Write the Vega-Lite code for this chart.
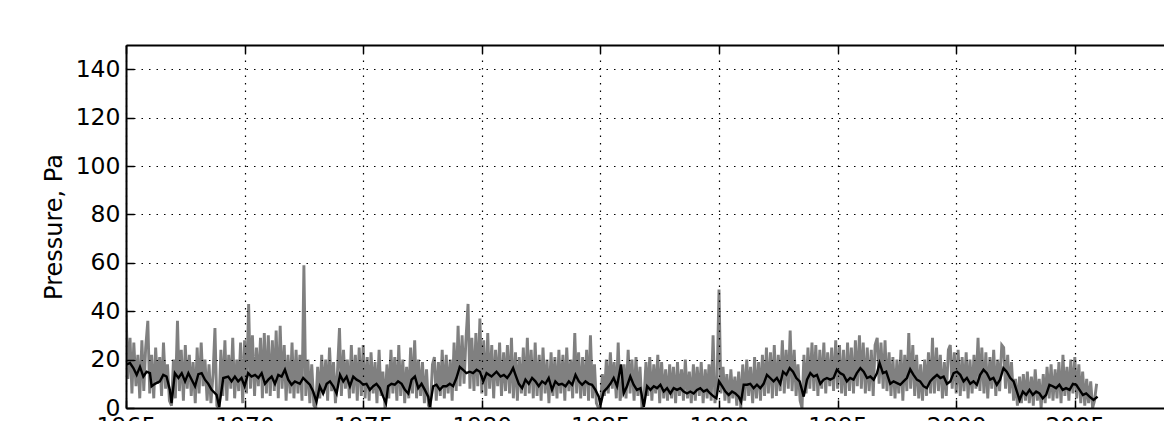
{
"$schema": "https://vega.github.io/schema/vega-lite/v6.json",
"width": 1038, "height": 363,
"autosize": {"type": "none"},
"padding": {"left": 126, "top": 45, "right": 0, "bottom": 13},
"background": "white",
"config": {"view": {"stroke": null}, "font": "DejaVu Sans"},
"datasets": {
"gray": [
{"t":1965.00,"p":41},{"t":1965.08,"p":12},{"t":1965.17,"p":29},{"t":1965.25,"p":6},{"t":1965.33,"p":27},{"t":1965.42,"p":9},{"t":1965.50,"p":22},{"t":1965.58,"p":4},{"t":1965.67,"p":28},{"t":1965.75,"p":7},{"t":1965.83,"p":25},{"t":1965.92,"p":36},
{"t":1966.00,"p":6},{"t":1966.08,"p":22},{"t":1966.17,"p":4},{"t":1966.25,"p":25},{"t":1966.33,"p":10},{"t":1966.42,"p":21},{"t":1966.50,"p":5},{"t":1966.58,"p":27},{"t":1966.67,"p":8},{"t":1966.75,"p":18},{"t":1966.83,"p":3},{"t":1966.92,"p":1},
{"t":1967.00,"p":20},{"t":1967.08,"p":4},{"t":1967.17,"p":36},{"t":1967.25,"p":7},{"t":1967.33,"p":24},{"t":1967.42,"p":3},{"t":1967.50,"p":26},{"t":1967.58,"p":8},{"t":1967.67,"p":22},{"t":1967.75,"p":5},{"t":1967.83,"p":19},{"t":1967.92,"p":2},
{"t":1968.00,"p":25},{"t":1968.08,"p":6},{"t":1968.17,"p":27},{"t":1968.25,"p":9},{"t":1968.33,"p":20},{"t":1968.42,"p":3},{"t":1968.50,"p":18},{"t":1968.58,"p":2},{"t":1968.67,"p":14},{"t":1968.75,"p":33},{"t":1968.83,"p":1},{"t":1968.92,"p":0},
{"t":1969.00,"p":24},{"t":1969.08,"p":5},{"t":1969.17,"p":28},{"t":1969.25,"p":3},{"t":1969.33,"p":22},{"t":1969.42,"p":8},{"t":1969.50,"p":29},{"t":1969.58,"p":4},{"t":1969.67,"p":20},{"t":1969.75,"p":7},{"t":1969.83,"p":27},{"t":1969.92,"p":2},
{"t":1970.00,"p":28},{"t":1970.08,"p":6},{"t":1970.17,"p":43},{"t":1970.25,"p":8},{"t":1970.33,"p":30},{"t":1970.42,"p":5},{"t":1970.50,"p":25},{"t":1970.58,"p":9},{"t":1970.67,"p":29},{"t":1970.75,"p":4},{"t":1970.83,"p":31},{"t":1970.92,"p":6},
{"t":1971.00,"p":30},{"t":1971.08,"p":5},{"t":1971.17,"p":28},{"t":1971.25,"p":7},{"t":1971.33,"p":32},{"t":1971.42,"p":4},{"t":1971.50,"p":34},{"t":1971.58,"p":8},{"t":1971.67,"p":26},{"t":1971.75,"p":3},{"t":1971.83,"p":22},{"t":1971.92,"p":6},
{"t":1972.00,"p":27},{"t":1972.08,"p":4},{"t":1972.17,"p":24},{"t":1972.25,"p":6},{"t":1972.33,"p":22},{"t":1972.42,"p":3},{"t":1972.50,"p":59},{"t":1972.58,"p":5},{"t":1972.67,"p":20},{"t":1972.75,"p":2},{"t":1972.83,"p":18},{"t":1972.92,"p":1},
{"t":1973.00,"p":0},{"t":1973.08,"p":17},{"t":1973.17,"p":4},{"t":1973.25,"p":22},{"t":1973.33,"p":6},{"t":1973.42,"p":20},{"t":1973.50,"p":3},{"t":1973.58,"p":25},{"t":1973.67,"p":7},{"t":1973.75,"p":19},{"t":1973.83,"p":2},{"t":1973.92,"p":16},
{"t":1974.00,"p":33},{"t":1974.08,"p":5},{"t":1974.17,"p":24},{"t":1974.25,"p":8},{"t":1974.33,"p":20},{"t":1974.42,"p":4},{"t":1974.50,"p":26},{"t":1974.58,"p":6},{"t":1974.67,"p":22},{"t":1974.75,"p":3},{"t":1974.83,"p":25},{"t":1974.92,"p":5},
{"t":1975.00,"p":26},{"t":1975.08,"p":4},{"t":1975.17,"p":21},{"t":1975.25,"p":3},{"t":1975.33,"p":23},{"t":1975.42,"p":6},{"t":1975.50,"p":19},{"t":1975.58,"p":2},{"t":1975.67,"p":24},{"t":1975.75,"p":5},{"t":1975.83,"p":15},{"t":1975.92,"p":0},
{"t":1976.00,"p":18},{"t":1976.08,"p":4},{"t":1976.17,"p":24},{"t":1976.25,"p":6},{"t":1976.33,"p":21},{"t":1976.42,"p":3},{"t":1976.50,"p":26},{"t":1976.58,"p":5},{"t":1976.67,"p":20},{"t":1976.75,"p":2},{"t":1976.83,"p":17},{"t":1976.92,"p":4},
{"t":1977.00,"p":25},{"t":1977.08,"p":6},{"t":1977.17,"p":28},{"t":1977.25,"p":4},{"t":1977.33,"p":20},{"t":1977.42,"p":5},{"t":1977.50,"p":19},{"t":1977.58,"p":2},{"t":1977.67,"p":16},{"t":1977.75,"p":1},{"t":1977.83,"p":0},{"t":1977.92,"p":18},
{"t":1978.00,"p":21},{"t":1978.08,"p":3},{"t":1978.17,"p":19},{"t":1978.25,"p":5},{"t":1978.33,"p":24},{"t":1978.42,"p":4},{"t":1978.50,"p":22},{"t":1978.58,"p":6},{"t":1978.67,"p":20},{"t":1978.75,"p":3},{"t":1978.83,"p":27},{"t":1978.92,"p":7},
{"t":1979.00,"p":34},{"t":1979.08,"p":9},{"t":1979.17,"p":30},{"t":1979.25,"p":10},{"t":1979.33,"p":28},{"t":1979.42,"p":43},{"t":1979.50,"p":8},{"t":1979.58,"p":29},{"t":1979.67,"p":7},{"t":1979.75,"p":31},{"t":1979.83,"p":9},{"t":1979.92,"p":37},
{"t":1980.00,"p":6},{"t":1980.08,"p":28},{"t":1980.17,"p":5},{"t":1980.25,"p":31},{"t":1980.33,"p":8},{"t":1980.42,"p":26},{"t":1980.50,"p":4},{"t":1980.58,"p":24},{"t":1980.67,"p":9},{"t":1980.75,"p":27},{"t":1980.83,"p":5},{"t":1980.92,"p":23},
{"t":1981.00,"p":7},{"t":1981.08,"p":26},{"t":1981.17,"p":6},{"t":1981.25,"p":29},{"t":1981.33,"p":4},{"t":1981.42,"p":23},{"t":1981.50,"p":3},{"t":1981.58,"p":21},{"t":1981.67,"p":6},{"t":1981.75,"p":25},{"t":1981.83,"p":5},{"t":1981.92,"p":29},
{"t":1982.00,"p":6},{"t":1982.08,"p":24},{"t":1982.17,"p":4},{"t":1982.25,"p":27},{"t":1982.33,"p":5},{"t":1982.42,"p":22},{"t":1982.50,"p":3},{"t":1982.58,"p":25},{"t":1982.67,"p":6},{"t":1982.75,"p":20},{"t":1982.83,"p":2},{"t":1982.92,"p":23},
{"t":1983.00,"p":5},{"t":1983.08,"p":21},{"t":1983.17,"p":4},{"t":1983.25,"p":24},{"t":1983.33,"p":6},{"t":1983.42,"p":22},{"t":1983.50,"p":3},{"t":1983.58,"p":25},{"t":1983.67,"p":7},{"t":1983.75,"p":20},{"t":1983.83,"p":4},{"t":1983.92,"p":31},
{"t":1984.00,"p":6},{"t":1984.08,"p":23},{"t":1984.17,"p":4},{"t":1984.25,"p":21},{"t":1984.33,"p":5},{"t":1984.42,"p":24},{"t":1984.50,"p":3},{"t":1984.58,"p":30},{"t":1984.67,"p":4},{"t":1984.75,"p":18},{"t":1984.83,"p":2},{"t":1984.92,"p":0},
{"t":1985.00,"p":0},{"t":1985.08,"p":14},{"t":1985.17,"p":5},{"t":1985.25,"p":20},{"t":1985.33,"p":6},{"t":1985.42,"p":23},{"t":1985.50,"p":8},{"t":1985.58,"p":19},{"t":1985.67,"p":4},{"t":1985.75,"p":27},{"t":1985.83,"p":3},{"t":1985.92,"p":10},
{"t":1986.00,"p":18},{"t":1986.08,"p":4},{"t":1986.17,"p":24},{"t":1986.25,"p":6},{"t":1986.33,"p":20},{"t":1986.42,"p":3},{"t":1986.50,"p":21},{"t":1986.58,"p":5},{"t":1986.67,"p":17},{"t":1986.75,"p":0},{"t":1986.83,"p":2},{"t":1986.92,"p":19},
{"t":1987.00,"p":5},{"t":1987.08,"p":21},{"t":1987.17,"p":3},{"t":1987.25,"p":18},{"t":1987.33,"p":6},{"t":1987.42,"p":22},{"t":1987.50,"p":2},{"t":1987.58,"p":19},{"t":1987.67,"p":4},{"t":1987.75,"p":16},{"t":1987.83,"p":3},{"t":1987.92,"p":18},
{"t":1988.00,"p":4},{"t":1988.08,"p":17},{"t":1988.17,"p":2},{"t":1988.25,"p":19},{"t":1988.33,"p":5},{"t":1988.42,"p":16},{"t":1988.50,"p":3},{"t":1988.58,"p":20},{"t":1988.67,"p":4},{"t":1988.75,"p":15},{"t":1988.83,"p":2},{"t":1988.92,"p":18},
{"t":1989.00,"p":3},{"t":1989.08,"p":17},{"t":1989.17,"p":5},{"t":1989.25,"p":19},{"t":1989.33,"p":2},{"t":1989.42,"p":16},{"t":1989.50,"p":4},{"t":1989.58,"p":18},{"t":1989.67,"p":3},{"t":1989.75,"p":30},{"t":1989.83,"p":2},{"t":1989.92,"p":12},
{"t":1990.00,"p":49},{"t":1990.08,"p":6},{"t":1990.17,"p":17},{"t":1990.25,"p":3},{"t":1990.33,"p":14},{"t":1990.42,"p":2},{"t":1990.50,"p":16},{"t":1990.58,"p":4},{"t":1990.67,"p":13},{"t":1990.75,"p":1},{"t":1990.83,"p":15},{"t":1990.92,"p":0},
{"t":1991.00,"p":18},{"t":1991.08,"p":3},{"t":1991.17,"p":20},{"t":1991.25,"p":5},{"t":1991.33,"p":17},{"t":1991.42,"p":2},{"t":1991.50,"p":21},{"t":1991.58,"p":4},{"t":1991.67,"p":19},{"t":1991.75,"p":3},{"t":1991.83,"p":22},{"t":1991.92,"p":5},
{"t":1992.00,"p":25},{"t":1992.08,"p":6},{"t":1992.17,"p":23},{"t":1992.25,"p":4},{"t":1992.33,"p":26},{"t":1992.42,"p":5},{"t":1992.50,"p":22},{"t":1992.58,"p":7},{"t":1992.67,"p":28},{"t":1992.75,"p":6},{"t":1992.83,"p":24},{"t":1992.92,"p":8},
{"t":1993.00,"p":32},{"t":1993.08,"p":7},{"t":1993.17,"p":24},{"t":1993.25,"p":5},{"t":1993.33,"p":18},{"t":1993.42,"p":3},{"t":1993.50,"p":0},{"t":1993.58,"p":22},{"t":1993.67,"p":6},{"t":1993.75,"p":25},{"t":1993.83,"p":8},{"t":1993.92,"p":27},
{"t":1994.00,"p":7},{"t":1994.08,"p":26},{"t":1994.17,"p":5},{"t":1994.25,"p":24},{"t":1994.33,"p":8},{"t":1994.42,"p":27},{"t":1994.50,"p":6},{"t":1994.58,"p":23},{"t":1994.67,"p":9},{"t":1994.75,"p":25},{"t":1994.83,"p":7},{"t":1994.92,"p":28},
{"t":1995.00,"p":8},{"t":1995.08,"p":26},{"t":1995.17,"p":6},{"t":1995.25,"p":24},{"t":1995.33,"p":5},{"t":1995.42,"p":27},{"t":1995.50,"p":7},{"t":1995.58,"p":25},{"t":1995.67,"p":6},{"t":1995.75,"p":28},{"t":1995.83,"p":9},{"t":1995.92,"p":30},
{"t":1996.00,"p":8},{"t":1996.08,"p":27},{"t":1996.17,"p":6},{"t":1996.25,"p":25},{"t":1996.33,"p":7},{"t":1996.42,"p":24},{"t":1996.50,"p":5},{"t":1996.58,"p":26},{"t":1996.67,"p":29},{"t":1996.75,"p":10},{"t":1996.83,"p":27},{"t":1996.92,"p":8},
{"t":1997.00,"p":28},{"t":1997.08,"p":7},{"t":1997.17,"p":23},{"t":1997.25,"p":5},{"t":1997.33,"p":21},{"t":1997.42,"p":4},{"t":1997.50,"p":20},{"t":1997.58,"p":6},{"t":1997.67,"p":24},{"t":1997.75,"p":3},{"t":1997.83,"p":22},{"t":1997.92,"p":7},
{"t":1998.00,"p":31},{"t":1998.08,"p":8},{"t":1998.17,"p":26},{"t":1998.25,"p":5},{"t":1998.33,"p":22},{"t":1998.42,"p":4},{"t":1998.50,"p":18},{"t":1998.58,"p":3},{"t":1998.67,"p":20},{"t":1998.75,"p":5},{"t":1998.83,"p":23},{"t":1998.92,"p":6},
{"t":1999.00,"p":29},{"t":1999.08,"p":6},{"t":1999.17,"p":25},{"t":1999.25,"p":7},{"t":1999.33,"p":22},{"t":1999.42,"p":4},{"t":1999.50,"p":19},{"t":1999.58,"p":5},{"t":1999.67,"p":24},{"t":1999.75,"p":26},{"t":1999.83,"p":8},{"t":1999.92,"p":23},
{"t":2000.00,"p":6},{"t":2000.08,"p":24},{"t":2000.17,"p":5},{"t":2000.25,"p":21},{"t":2000.33,"p":7},{"t":2000.42,"p":23},{"t":2000.50,"p":4},{"t":2000.58,"p":20},{"t":2000.67,"p":6},{"t":2000.75,"p":22},{"t":2000.83,"p":8},{"t":2000.92,"p":29},
{"t":2001.00,"p":7},{"t":2001.08,"p":25},{"t":2001.17,"p":6},{"t":2001.25,"p":23},{"t":2001.33,"p":4},{"t":2001.42,"p":21},{"t":2001.50,"p":8},{"t":2001.58,"p":24},{"t":2001.67,"p":5},{"t":2001.75,"p":20},{"t":2001.83,"p":7},{"t":2001.92,"p":26},
{"t":2002.00,"p":25},{"t":2002.08,"p":8},{"t":2002.17,"p":22},{"t":2002.25,"p":6},{"t":2002.33,"p":19},{"t":2002.42,"p":3},{"t":2002.50,"p":12},{"t":2002.58,"p":1},{"t":2002.67,"p":13},{"t":2002.75,"p":2},{"t":2002.83,"p":14},{"t":2002.92,"p":3},
{"t":2003.00,"p":15},{"t":2003.08,"p":2},{"t":2003.17,"p":13},{"t":2003.25,"p":1},{"t":2003.33,"p":16},{"t":2003.42,"p":3},{"t":2003.50,"p":12},{"t":2003.58,"p":0},{"t":2003.67,"p":14},{"t":2003.75,"p":2},{"t":2003.83,"p":17},{"t":2003.92,"p":4},
{"t":2004.00,"p":18},{"t":2004.08,"p":3},{"t":2004.17,"p":16},{"t":2004.25,"p":4},{"t":2004.33,"p":19},{"t":2004.42,"p":2},{"t":2004.50,"p":22},{"t":2004.58,"p":5},{"t":2004.67,"p":17},{"t":2004.75,"p":3},{"t":2004.83,"p":20},{"t":2004.92,"p":6},
{"t":2005.00,"p":21},{"t":2005.08,"p":4},{"t":2005.17,"p":18},{"t":2005.25,"p":2},{"t":2005.33,"p":15},{"t":2005.42,"p":1},{"t":2005.50,"p":12},{"t":2005.58,"p":2},{"t":2005.67,"p":11},{"t":2005.75,"p":0},{"t":2005.83,"p":3},{"t":2005.92,"p":10}
],
"black": [
{"t":1965.03,"p":18},{"t":1965.17,"p":18.6},{"t":1965.31,"p":16.5},{"t":1965.45,"p":13.7},{"t":1965.59,"p":17},{"t":1965.73,"p":13},{"t":1965.87,"p":15},{"t":1966.01,"p":14.4},{"t":1966.08,"p":9},{"t":1966.22,"p":10},{"t":1966.43,"p":11},{"t":1966.57,"p":13.7},{"t":1966.71,"p":13},{"t":1966.85,"p":7.5},{"t":1966.92,"p":2},
{"t":1967.06,"p":14.4},{"t":1967.21,"p":12.4},{"t":1967.35,"p":14.4},{"t":1967.49,"p":11},{"t":1967.63,"p":14.4},{"t":1967.77,"p":11.7},{"t":1967.91,"p":9},{"t":1968.05,"p":14},{"t":1968.19,"p":14.4},{"t":1968.33,"p":11.7},{"t":1968.47,"p":10},{"t":1968.61,"p":7.5},{"t":1968.82,"p":5.4},{"t":1968.93,"p":0.5},
{"t":1969.10,"p":12.4},{"t":1969.31,"p":13},{"t":1969.45,"p":11},{"t":1969.59,"p":13},{"t":1969.73,"p":11},{"t":1969.87,"p":12.4},{"t":1970.00,"p":9},{"t":1970.15,"p":14.4},{"t":1970.29,"p":13},{"t":1970.44,"p":13.7},{"t":1970.58,"p":12.4},{"t":1970.72,"p":14.4},{"t":1970.86,"p":10},
{"t":1971.00,"p":11.7},{"t":1971.14,"p":13},{"t":1971.28,"p":10},{"t":1971.42,"p":13.7},{"t":1971.56,"p":13},{"t":1971.70,"p":15.8},{"t":1971.84,"p":11.7},{"t":1971.98,"p":9.6},{"t":1972.12,"p":11},{"t":1972.33,"p":10},{"t":1972.47,"p":12.4},{"t":1972.61,"p":11},{"t":1972.75,"p":9.6},{"t":1972.89,"p":6.8},
{"t":1973.03,"p":2.6},{"t":1973.17,"p":9},{"t":1973.31,"p":6},{"t":1973.46,"p":10},{"t":1973.60,"p":11},{"t":1973.74,"p":9},{"t":1973.88,"p":6},{"t":1974.02,"p":13.7},{"t":1974.16,"p":11},{"t":1974.30,"p":13},{"t":1974.44,"p":9},{"t":1974.58,"p":13},{"t":1974.72,"p":11.7},{"t":1974.86,"p":11},
{"t":1975.00,"p":9.6},{"t":1975.14,"p":10},{"t":1975.28,"p":7.5},{"t":1975.42,"p":9},{"t":1975.56,"p":10},{"t":1975.70,"p":8.2},{"t":1975.84,"p":4.7},{"t":1975.96,"p":2},{"t":1976.05,"p":9},{"t":1976.19,"p":10},{"t":1976.33,"p":9.6},{"t":1976.47,"p":11},{"t":1976.62,"p":10},{"t":1976.76,"p":7.5},{"t":1976.90,"p":6},
{"t":1977.04,"p":11.7},{"t":1977.18,"p":13},{"t":1977.32,"p":8.2},{"t":1977.46,"p":10},{"t":1977.60,"p":7.5},{"t":1977.74,"p":4.7},{"t":1977.81,"p":0.5},{"t":1977.95,"p":9},{"t":1978.09,"p":9.6},{"t":1978.23,"p":7.5},{"t":1978.37,"p":9},{"t":1978.51,"p":9},{"t":1978.65,"p":10},{"t":1978.79,"p":9},{"t":1978.93,"p":12.4},
{"t":1979.07,"p":17},{"t":1979.21,"p":15.8},{"t":1979.35,"p":14.4},{"t":1979.49,"p":15},{"t":1979.63,"p":14.4},{"t":1979.78,"p":15.8},{"t":1979.92,"p":15},{"t":1980.06,"p":11},{"t":1980.20,"p":14.4},{"t":1980.41,"p":13},{"t":1980.62,"p":15},
{"t":1980.79,"p":13},{"t":1980.93,"p":13.7},{"t":1981.07,"p":12.4},{"t":1981.21,"p":14.4},{"t":1981.32,"p":16.5},{"t":1981.42,"p":13.7},{"t":1981.56,"p":10},{"t":1981.70,"p":8.2},{"t":1981.84,"p":11.7},{"t":1981.98,"p":10},{"t":1982.12,"p":12.4},{"t":1982.26,"p":11},{"t":1982.40,"p":9},{"t":1982.54,"p":11},{"t":1982.68,"p":10},{"t":1982.82,"p":12.4},{"t":1982.96,"p":7.5},
{"t":1983.10,"p":11},{"t":1983.24,"p":9.6},{"t":1983.38,"p":10},{"t":1983.53,"p":9},{"t":1983.67,"p":11},{"t":1983.81,"p":9.6},{"t":1983.95,"p":13.7},{"t":1984.09,"p":11},{"t":1984.23,"p":9.6},{"t":1984.37,"p":11},{"t":1984.51,"p":10},{"t":1984.65,"p":9.6},{"t":1984.79,"p":7.5},{"t":1984.93,"p":4.7},
{"t":1985.00,"p":1.2},{"t":1985.14,"p":6.8},{"t":1985.28,"p":8.2},{"t":1985.42,"p":10},{"t":1985.56,"p":12.4},{"t":1985.70,"p":9},{"t":1985.87,"p":18},{"t":1985.98,"p":6},{"t":1986.12,"p":9},{"t":1986.26,"p":13},{"t":1986.40,"p":9.6},{"t":1986.54,"p":7.5},{"t":1986.69,"p":8.2},{"t":1986.83,"p":0.5},{"t":1986.97,"p":9},
{"t":1987.11,"p":7.5},{"t":1987.25,"p":9},{"t":1987.39,"p":8.2},{"t":1987.53,"p":9.6},{"t":1987.67,"p":6.8},{"t":1987.81,"p":8.2},{"t":1987.95,"p":6},{"t":1988.09,"p":8.2},{"t":1988.23,"p":7.5},{"t":1988.37,"p":8.2},{"t":1988.51,"p":6.8},{"t":1988.65,"p":6},{"t":1988.79,"p":6.8},{"t":1988.93,"p":6},
{"t":1989.07,"p":7.5},{"t":1989.21,"p":8.2},{"t":1989.35,"p":6.8},{"t":1989.49,"p":7.5},{"t":1989.63,"p":6},{"t":1989.78,"p":4.7},{"t":1989.89,"p":4},{"t":1990.00,"p":11},{"t":1990.13,"p":9},{"t":1990.27,"p":6.8},{"t":1990.41,"p":5.4},{"t":1990.55,"p":6.8},{"t":1990.69,"p":6},{"t":1990.83,"p":4.7},{"t":1990.93,"p":2.6},
{"t":1991.04,"p":9.6},{"t":1991.18,"p":9.6},{"t":1991.32,"p":10},{"t":1991.46,"p":8.2},{"t":1991.60,"p":9.6},{"t":1991.74,"p":8.2},{"t":1991.88,"p":10},{"t":1992.02,"p":13.7},{"t":1992.16,"p":12.4},{"t":1992.30,"p":11},{"t":1992.44,"p":12.4},{"t":1992.58,"p":10},{"t":1992.70,"p":15},{"t":1992.84,"p":13.7},{"t":1992.98,"p":16.5},
{"t":1993.12,"p":15},{"t":1993.26,"p":12.4},{"t":1993.40,"p":11},{"t":1993.57,"p":4.7},{"t":1993.71,"p":11.7},{"t":1993.85,"p":14.4},{"t":1993.99,"p":13},{"t":1994.13,"p":13.7},{"t":1994.27,"p":10},{"t":1994.41,"p":11.7},{"t":1994.55,"p":12.4},{"t":1994.69,"p":11.7},{"t":1994.83,"p":12.4},{"t":1994.97,"p":15.8},
{"t":1995.11,"p":14.4},{"t":1995.25,"p":13.7},{"t":1995.39,"p":11},{"t":1995.53,"p":12.4},{"t":1995.67,"p":11.7},{"t":1995.81,"p":14.4},{"t":1995.96,"p":16.5},{"t":1996.10,"p":15},{"t":1996.24,"p":12.4},{"t":1996.38,"p":13},{"t":1996.52,"p":11.7},{"t":1996.66,"p":14.4},{"t":1996.77,"p":18.6},{"t":1996.91,"p":14.4},
{"t":1997.05,"p":15},{"t":1997.22,"p":10},{"t":1997.36,"p":11},{"t":1997.57,"p":10},{"t":1997.64,"p":9.6},{"t":1997.78,"p":11},{"t":1997.92,"p":12.4},{"t":1998.06,"p":16},{"t":1998.20,"p":13.7},{"t":1998.34,"p":11.7},{"t":1998.48,"p":11},{"t":1998.62,"p":9},{"t":1998.76,"p":8.2},{"t":1998.90,"p":11},
{"t":1999.04,"p":12.4},{"t":1999.19,"p":13.7},{"t":1999.33,"p":12.4},{"t":1999.47,"p":13},{"t":1999.61,"p":10},{"t":1999.75,"p":11},{"t":1999.89,"p":14.4},{"t":2000.03,"p":15},{"t":2000.17,"p":13.7},{"t":2000.31,"p":11},{"t":2000.45,"p":12.4},{"t":2000.59,"p":10},{"t":2000.73,"p":11},{"t":2000.87,"p":9.6},
{"t":2001.01,"p":13.7},{"t":2001.15,"p":15.8},{"t":2001.29,"p":14.4},{"t":2001.43,"p":11.7},{"t":2001.57,"p":12.4},{"t":2001.71,"p":9.6},{"t":2001.85,"p":11.7},{"t":2001.99,"p":16.5},{"t":2002.13,"p":15},{"t":2002.28,"p":12.4},{"t":2002.42,"p":11},{"t":2002.56,"p":6.8},{"t":2002.67,"p":3.3},{"t":2002.81,"p":6.8},{"t":2002.95,"p":5.4},
{"t":2003.09,"p":7.5},{"t":2003.23,"p":5.4},{"t":2003.37,"p":6.8},{"t":2003.51,"p":6},{"t":2003.65,"p":4},{"t":2003.79,"p":5.4},{"t":2003.93,"p":9.6},{"t":2004.07,"p":9},{"t":2004.21,"p":8.2},{"t":2004.35,"p":9.6},{"t":2004.49,"p":7.5},{"t":2004.63,"p":8.2},{"t":2004.78,"p":7.5},{"t":2004.92,"p":10},
{"t":2005.06,"p":9.6},{"t":2005.20,"p":7.5},{"t":2005.34,"p":5.4},{"t":2005.48,"p":6},{"t":2005.62,"p":4.7},{"t":2005.79,"p":3.3},{"t":2005.96,"p":4.7}
]
},
"encoding": {
"y": {"field": "p", "type": "quantitative",
"scale": {"domain": [0, 150], "nice": false, "zero": true},
"axis": {"orient": "left", "values": [0,20,40,60,80,100,120,140], "title": "Pressure, Pa",
"titleFontSize": 24, "titleFontWeight": "normal", "titleColor": "black", "titleAngle": 270, "titleX": -72, "titleY": 181.5, "titleBaseline": "middle", "titleAlign": "center",
"grid": true, "gridColor": "black", "gridDash": [1.5, 6], "gridWidth": 1.2, "gridOpacity": 1,
"ticks": true, "tickSize": -8, "tickColor": "black", "tickWidth": 1.5,
"domain": true, "domainColor": "black", "domainWidth": 2,
"labelFontSize": 23.5, "labelColor": "black", "labelPadding": 14, "labelFlush": false, "labelOverlap": false, "zindex": 1}}
},
"layer": [
{
"data": {"name": "gray"},
"mark": {"type": "line", "color": "#808080", "strokeWidth": 2.9, "strokeJoin": "miter", "clip": true},
"encoding": {
"x": {"field": "t", "type": "quantitative",
"scale": {"domain": [1965, 2008.76], "nice": false, "zero": false},
"axis": {"orient": "bottom", "values": [1965,1970,1975,1980,1985,1990,1995,2000,2005], "format": "d", "title": null,
"grid": true, "gridColor": "black", "gridDash": [1.5, 6], "gridWidth": 1.2, "gridOpacity": 1,
"ticks": true, "tickSize": -8, "tickColor": "black", "tickWidth": 1.5,
"domain": true, "domainColor": "black", "domainWidth": 2,
"labelFontSize": 23.5, "labelColor": "black", "labelPadding": 14, "labelFlush": false, "labelOverlap": false, "zindex": 1}}
}
},
{
"data": {"name": "black"},
"mark": {"type": "line", "color": "black", "strokeWidth": 2.4, "clip": true},
"encoding": {
"x": {"field": "t", "type": "quantitative",
"axis": {"orient": "top", "values": [1965,1970,1975,1980,1985,1990,1995,2000,2005], "labels": false, "title": null, "grid": false,
"ticks": true, "tickSize": -8, "tickColor": "black", "tickWidth": 1.5,
"domain": true, "domainColor": "black", "domainWidth": 2, "zindex": 1}}
}
}
],
"resolve": {"axis": {"x": "independent"}}
}
